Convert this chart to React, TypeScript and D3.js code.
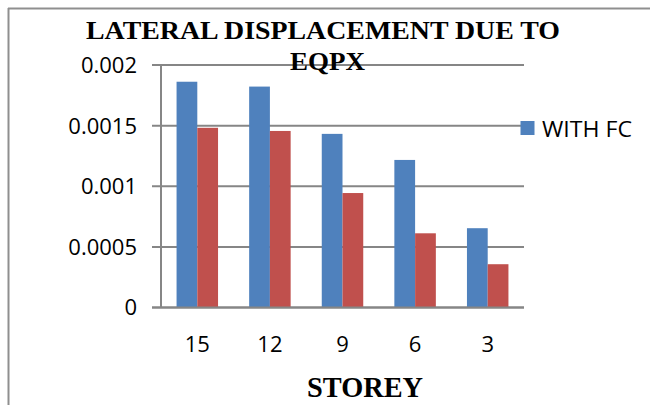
import React from "react";
import * as d3 from "d3";

const storeys = ["15", "12", "9", "6", "3"];
const withFC = [0.001862, 0.001822, 0.001432, 0.001217, 0.000654];
const withoutFC = [0.001482, 0.001456, 0.000944, 0.000612, 0.000357];
const yTicks = [0, 0.0005, 0.001, 0.0015, 0.002];
const yTickLabels = ["0", "0.0005", "0.001", "0.0015", "0.002"];
const seriesNames = ["WITH FC", "WITHOUT FC"];
const colors = ["#4F81BD", "#C0504D"];

const W = 650;
const H = 405;
const plot = { left: 161, right: 524, top: 65, bottom: 307.5 };

export default function App() {
  const x = d3
    .scaleBand<string>()
    .domain(storeys)
    .range([plot.left, plot.right])
    .paddingInner(3 / 7)
    .paddingOuter(3 / 14);
  const xs = d3.scaleBand<string>().domain(seriesNames).range([0, x.bandwidth()]);
  const y = d3.scaleLinear().domain([0, 0.002]).range([plot.bottom, plot.top]);
  const series = [withFC, withoutFC];
  const sans = "'Open Sans', 'Liberation Sans', sans-serif";
  const serif = "'Liberation Serif', 'Times New Roman', serif";

  return (
    <svg
      width={W}
      height={H}
      style={{ position: "absolute", left: 0, top: 0, background: "#fff" }}
    >
      <rect x={0} y={0} width={W} height={H} fill="#fff" />
      {/* outer border (top and left only visible) */}
      <line x1={8} y1={8.5} x2={W} y2={8.5} stroke="#8f8f8f" strokeWidth={2} />
      <line x1={8.5} y1={8} x2={8.5} y2={H} stroke="#8f8f8f" strokeWidth={2} />

      {/* gridlines + y ticks */}
      {yTicks.map((t) => (
        <line
          key={"g" + t}
          x1={152}
          x2={plot.right}
          y1={y(t)}
          y2={y(t)}
          stroke="#868686"
          strokeWidth={2}
        />
      ))}
      {/* y axis line */}
      <line
        x1={plot.left}
        x2={plot.left}
        y1={y(0.002)}
        y2={y(0)}
        stroke="#868686"
        strokeWidth={2}
      />

      {/* bars */}
      {series.map((vals, si) =>
        vals.map((v, i) => {
          const bx = (x(storeys[i]) as number) + (xs(seriesNames[si]) as number);
          return (
            <rect
              key={si + "-" + i}
              x={bx}
              y={y(v)}
              width={xs.bandwidth()}
              height={y(0) - y(v)}
              fill={colors[si]}
            />
          );
        })
      )}

      {/* x axis line over bars */}
      <line
        x1={152}
        x2={plot.right}
        y1={y(0)}
        y2={y(0)}
        stroke="#868686"
        strokeWidth={2}
      />

      {/* y tick labels */}
      {yTicks.map((t, i) => (
        <text
          key={"yl" + t}
          x={137}
          y={y(t)}
          dy="0.36em"
          textAnchor="end"
          fontFamily={sans}
          fontSize={22}
          fill="#000"
        >
          {yTickLabels[i]}
        </text>
      ))}

      {/* x tick labels */}
      {storeys.map((s) => (
        <text
          key={"xl" + s}
          x={(x(s) as number) + x.bandwidth() / 2}
          y={351.5}
          textAnchor="middle"
          fontFamily={sans}
          fontSize={22}
          fill="#000"
        >
          {s}
        </text>
      ))}

      {/* title */}
      <text
        x={86}
        y={38.5}
        fontFamily={serif}
        fontWeight="bold"
        fontSize={25}
        textLength={474}
        lengthAdjust="spacingAndGlyphs"
        fill="#000"
      >
        LATERAL DISPLACEMENT DUE TO
      </text>
      <text
        x={290}
        y={70}
        fontFamily={serif}
        fontWeight="bold"
        fontSize={25}
        textLength={75}
        lengthAdjust="spacingAndGlyphs"
        fill="#000"
      >
        EQPX
      </text>

      {/* x axis title */}
      <text
        x={307}
        y={397}
        fontFamily={serif}
        fontWeight="bold"
        fontSize={29}
        textLength={116}
        lengthAdjust="spacingAndGlyphs"
        fill="#000"
      >
        STOREY
      </text>

      {/* legend */}
      <rect x={520.5} y={121} width={14} height={14} fill={colors[0]} />
      <text
        x={542}
        y={136.5}
        fontFamily={sans}
        fontSize={22}
        textLength={90}
        lengthAdjust="spacingAndGlyphs"
        fill="#000"
      >
        {seriesNames[0]}
      </text>
    </svg>
  );
}
